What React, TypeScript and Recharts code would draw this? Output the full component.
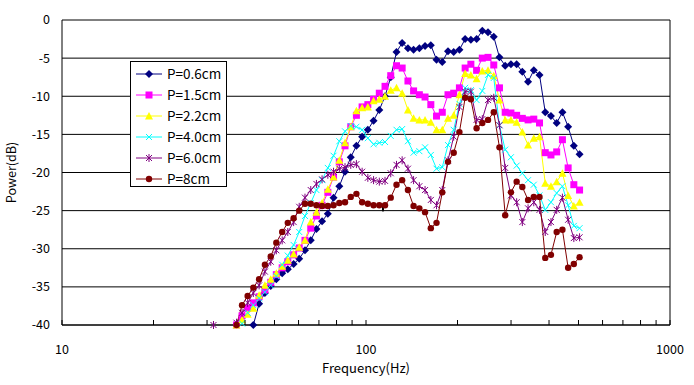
import React from 'react';
import { LineChart, Line, XAxis, YAxis, CartesianGrid, ReferenceLine, Legend } from 'recharts';

const FREQ = [31.5, 32.9, 34.3, 35.9, 37.5, 39.1, 40.8, 42.6, 44.5, 46.5, 48.6, 50.7, 53.0, 55.3, 57.8, 60.3, 63.0, 65.8, 68.7, 71.7, 74.9, 78.2, 81.7, 85.3, 89.1, 93.0, 97.1, 101.4, 105.9, 110.6, 115.5, 120.6, 126.0, 131.5, 137.4, 143.4, 149.8, 156.4, 163.4, 170.6, 178.2, 186.1, 194.3, 202.9, 211.9, 221.3, 231.1, 241.3, 252.0, 263.2, 274.8, 287.0, 299.7, 313.0, 326.8, 341.3, 356.4, 372.2, 388.7, 405.9, 423.9, 442.7, 462.3, 482.7, 504.1];

const P06 = [null, null, null, null, null, null, null,
  -40, -37.2, -35.8, -34.9, -34.0, -33.2, -32.7, -32.0, -31.3, -30.2, -28.9, -27.4, -26.4, -25.4, -23.3, -21.8, -19.9, -18.0, -16.5, -15.3, -14.4, -13.2, -11.8, -10.0, -7.5, -4.2, -3.0, -3.7, -3.9, -3.7, -3.4, -3.3, -5.2, -5.5, -4.1, -4.2, -3.9, -2.5, -2.6, -2.5, -1.4, -1.6, -2.2, -4.9, -6.0, -5.8, -5.8, -6.8, -8.1, -6.6, -7.2, -12.1, -12.6, -13.5, -12.1, -14.0, -16.5, -17.6];

const P15 = [null, null, null, null,
  -40, -38.8, -37.8, -37.1, -36.3, -35.4, -34.4, -33.4, -32.5, -31.7, -30.8, -29.9, -28.9, -27.3, -25.7, -24.3, -22.6, -20.6, -18.6, -16.5, -14.0, -12.5, -11.4, -11.1, -10.4, -9.6, -8.7, -7.3, -6.0, -6.3, -8.0, -9.3, -9.8, -10.1, -11.1, -12.6, -12.1, -9.8, -9.6, -8.9, -6.3, -5.8, -6.6, -5.0, -4.9, -5.9, -8.9, -12.1, -12.2, -12.5, -12.9, -13.1, -13.0, -13.5, -17.4, -17.7, -17.3, -15.7, -19.4, -21.6, -22.3];

const P22 = [null, null, null, null,
  -40, -39.3, -38.6, -37.8, -36.1, -34.8, -34.0, -33.2, -32.3, -31.5, -30.7, -29.8, -28.9, -26.5, -25.2, -24.0, -22.2, -20.6, -18.4, -16.1, -14.0, -11.9, -11.5, -11.4, -10.6, -10.4, -10.0, -9.2, -8.9, -9.6, -11.8, -12.9, -13.1, -13.1, -13.4, -14.4, -14.4, -12.9, -12.5, -9.8, -7.0, -7.2, -7.7, -6.7, -6.6, -7.3, -10.5, -13.1, -13.1, -13.4, -14.7, -16.4, -15.5, -15.3, -21.4, -21.8, -21.2, -20.1, -23.0, -24.4, -23.9];

const P40 = [null, null, null, null, null,
  -39.8, -38.4, -37.4, -36.5, -35.7, -34.8, -33.6, -32.1, -30.9, -29.5, -27.8, -25.7, -24.0, -22.3, -21.0, -19.4, -17.8, -15.9, -14.6, -13.9, -14.0, -14.4, -15.5, -16.3, -16.1, -16.0, -15.2, -14.4, -14.3, -15.9, -17.4, -17.2, -16.7, -17.7, -19.5, -19.3, -16.4, -14.4, -11.0, -8.9, -9.2, -10.5, -9.3, -7.2, -7.6, -13.8, -17.0, -18.0, -19.1, -20.1, -21.0, -21.6, -23.0, -24.9, -23.9, -22.7, -21.8, -24.3, -27.0, -27.3];

const P60 = [-40, null, null, null,
  -39.7, -38.4, -37.1, -35.8, -34.8, -33.0, -31.7, -30.2, -28.9, -27.8, -26.5, -24.5, -23.3, -22.3, -21.5, -20.9, -20.3, -19.9, -19.5, -19.3, -19.0, -18.9, -19.9, -20.7, -21.0, -21.2, -21.1, -20.1, -19.0, -18.4, -19.5, -21.0, -21.8, -22.3, -23.6, -24.3, -22.3, -18.4, -15.3, -11.4, -9.4, -9.4, -13.1, -13.0, -10.5, -10.2, -13.8, -19.4, -23.0, -23.9, -26.5, -24.7, -23.9, -24.9, -27.8, -26.5, -24.9, -23.3, -26.2, -28.6, -28.5];

const P80 = [null, null, null, null,
  -40, -37.4, -36.2, -35.1, -34.0, -32.1, -31.0, -29.2, -27.8, -26.6, -26.0, -25.0, -24.1, -24.1, -24.3, -24.4, -24.4, -24.3, -24.0, -23.9, -23.2, -22.8, -23.9, -24.1, -24.3, -24.3, -24.3, -23.3, -21.6, -21.0, -22.3, -24.4, -24.7, -25.2, -27.3, -26.6, -22.6, -18.6, -17.4, -14.7, -10.2, -10.4, -14.2, -13.5, -13.1, -12.1, -16.7, -25.6, -22.6, -21.2, -21.9, -23.6, -23.2, -23.2, -31.2, -30.8, -27.8, -27.5, -32.5, -32.0, -31.1];

const SERIES_NAMES = ['P=0.6cm', 'P=1.5cm', 'P=2.2cm', 'P=4.0cm', 'P=6.0cm', 'P=8cm'];
const X_TICKS = [10, 20, 30, 40, 50, 60, 70, 80, 90, 100, 200, 300, 400, 500, 600, 700, 800, 900, 1000];
const X_LABELS = [10, 100, 1000];
const Y_TICKS = [-40, -35, -30, -25, -20, -15, -10, -5, 0];
const MARK_FREQ = 113.7;
const MARK_RANGE = [-24.1, -25.1];

const SERIES = [
  { key: 'p06', name: SERIES_NAMES[0], color: '#000080', shape: 'diamond', values: P06 },
  { key: 'p15', name: SERIES_NAMES[1], color: '#FF00FF', shape: 'square', values: P15 },
  { key: 'p22', name: SERIES_NAMES[2], color: '#FFFF00', shape: 'triangle', values: P22 },
  { key: 'p40', name: SERIES_NAMES[3], color: '#00FFFF', shape: 'x', values: P40 },
  { key: 'p60', name: SERIES_NAMES[4], color: '#800080', shape: 'star', values: P60 },
  { key: 'p80', name: SERIES_NAMES[5], color: '#800000', shape: 'circle', values: P80 },
];

const rows = FREQ.map((f, i) => {
  const r: any = { f };
  SERIES.forEach((s) => { r[s.key] = s.values[i]; });
  return r;
});

const FONT = '"Noto Sans CJK JP", "Noto Sans", sans-serif';

function Marker({ shape, color, cx, cy }: any) {
  switch (shape) {
    case 'diamond':
      return <polygon points={`${cx},${cy - 4} ${cx + 4},${cy} ${cx},${cy + 4} ${cx - 4},${cy}`} fill={color} />;
    case 'square':
      return <rect x={cx - 3.5} y={cy - 3.5} width={7} height={7} fill={color} />;
    case 'triangle':
      return <polygon points={`${cx},${cy - 4} ${cx + 4},${cy + 3.5} ${cx - 4},${cy + 3.5}`} fill={color} />;
    case 'x':
      return <path d={`M${cx - 3},${cy - 3}L${cx + 3},${cy + 3}M${cx - 3},${cy + 3}L${cx + 3},${cy - 3}`} stroke={color} strokeWidth={1} fill="none" />;
    case 'star':
      return <path d={`M${cx - 3},${cy - 3}L${cx + 3},${cy + 3}M${cx - 3},${cy + 3}L${cx + 3},${cy - 3}M${cx},${cy - 4}L${cx},${cy + 4}`} stroke={color} strokeWidth={1} fill="none" />;
    default:
      return <circle cx={cx} cy={cy} r={3.2} fill={color} />;
  }
}

function XTick(props: any) {
  const { x, y, payload } = props;
  const v = payload.value;
  const major = X_LABELS.includes(v);
  return (
    <g>
      <line x1={x} y1={y} x2={x} y2={y - 5} stroke="#000" strokeWidth={1} />
      {major && (
        <text x={x} y={y + 29} textAnchor="middle" fontSize={12.5} fontFamily={FONT} fill="#000">{v}</text>
      )}
    </g>
  );
}

function LegendBox() {
  return (
    <svg width={98} height={127} style={{ display: 'block' }}>
      <rect x={0.5} y={0.5} width={96} height={125} fill="#fff" stroke="#000" strokeWidth={1} />
      {SERIES.map((s, i) => {
        const cy = 13 + i * 21;
        return (
          <g key={s.key}>
            <line x1={6} y1={cy} x2={32} y2={cy} stroke={s.color} strokeWidth={1} />
            <Marker shape={s.shape} color={s.color} cx={19} cy={cy} />
            <text x={37} y={cy + 5} fontSize={13.5} fontFamily={FONT} fill="#000">{s.name}</text>
          </g>
        );
      })}
    </svg>
  );
}

export default function App() {
  return (
    <div style={{ position: 'absolute', left: 0, top: 0, width: 694, height: 385, background: '#fff' }}>
      <LineChart width={694} height={385} data={rows} margin={{ top: 20, right: 24, left: 0, bottom: 0 }}>
        <CartesianGrid vertical={false} stroke="#000" strokeWidth={1} />
        <XAxis
          dataKey="f"
          type="number"
          scale="log"
          domain={[10, 1000]}
          ticks={X_TICKS}
          interval={0}
          height={60}
          tickSize={0}
          tickMargin={0}
          tickLine={false}
          axisLine={{ stroke: '#000' }}
          tick={<XTick />}
          label={{ value: 'Frequency(Hz)', position: 'insideBottom', offset: 12, style: { fontSize: 13, fontFamily: FONT, fill: '#000' } }}
        />
        <YAxis
          type="number"
          domain={[-40, 0]}
          ticks={Y_TICKS}
          interval={0}
          width={62}
          tickLine={false}
          tickSize={0}
          tickMargin={12}
          axisLine={{ stroke: '#000' }}
          tick={{ fontSize: 12.5, fontFamily: FONT, fill: '#000' }}
          label={{ value: 'Power(dB)', angle: -90, position: 'insideLeft', offset: 12, style: { fontSize: 12.5, fontFamily: FONT, fill: '#000', textAnchor: 'middle' } }}
        />
        <ReferenceLine x={1000} stroke="#000" strokeWidth={1} />
        {SERIES.map((s) => (
          <Line
            key={s.key}
            dataKey={s.key}
            name={s.name}
            type="linear"
            stroke={s.color}
            strokeWidth={1}
            connectNulls={false}
            isAnimationActive={false}
            dot={(p: any) => (
              p.cy == null || p.value == null || Number.isNaN(p.cy)
                ? <g key={`${s.key}-${p.index}`} />
                : <g key={`${s.key}-${p.index}`}><Marker shape={s.shape} color={s.color} cx={p.cx} cy={p.cy} /></g>
            )}
            activeDot={false}
          />
        ))}
        <ReferenceLine
          segment={[{ x: MARK_FREQ, y: MARK_RANGE[0] }, { x: MARK_FREQ, y: MARK_RANGE[1] }]}
          stroke="#000"
          strokeWidth={2}
        />
        <Legend
          layout="horizontal"
          verticalAlign="middle"
          align="center"
          content={() => <LegendBox />}
          wrapperStyle={{ position: 'absolute', left: 130, top: 61, width: 98, height: 127 }}
        />
      </LineChart>
    </div>
  );
}
